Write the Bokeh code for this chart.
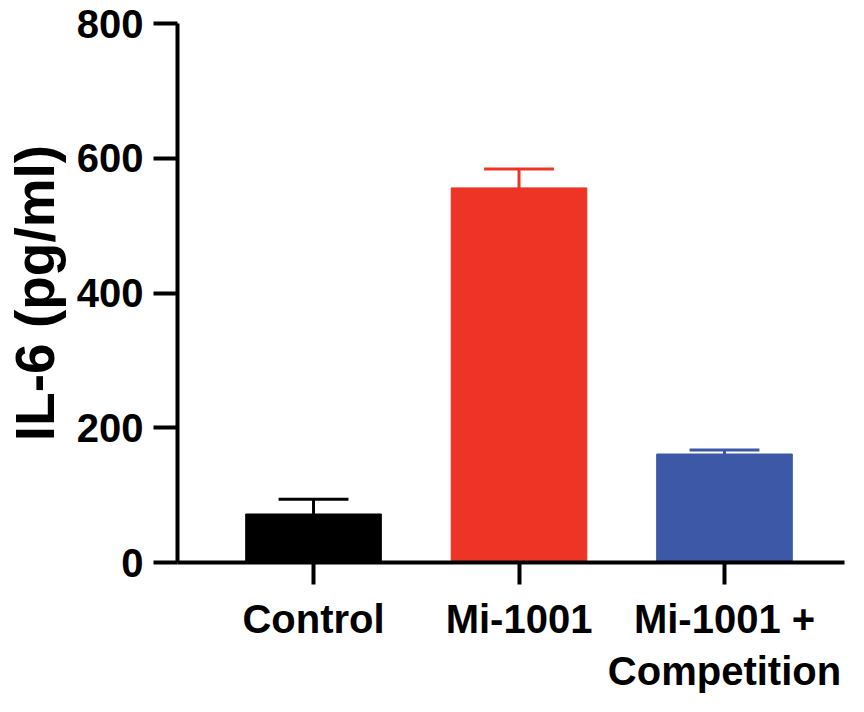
from bokeh.plotting import figure
from bokeh.models import ColumnDataSource, FixedTicker, Range1d
from bokeh.embed import file_html
from bokeh.resources import INLINE

# --- data ---
categories = ["Control", "Mi-1001", "Mi-1001 +\nCompetition"]
means = [72, 556, 161]
errors = [22, 28, 6]
colors = ["#000000", "#EE3424", "#3C58A6"]
y_ticks = [0, 200, 400, 600, 800]

xpos = list(range(1, len(categories) + 1))
bar_w = 0.66
cap_half = 0.17

src = ColumnDataSource(dict(
    x=xpos,
    top=means,
    upper=[m + e for m, e in zip(means, errors)],
    cap_l=[x - cap_half for x in xpos],
    cap_r=[x + cap_half for x in xpos],
    color=colors,
))

p = figure(
    width=848, height=696,
    x_range=Range1d(0.338, 3.584), y_range=Range1d(0, 800),
    output_backend="svg", toolbar_location=None,
    min_border_left=177, min_border_top=23, min_border_right=4, min_border_bottom=121,
)
p.outline_line_color = None
p.xgrid.visible = False
p.ygrid.visible = False
p.background_fill_color = "white"
p.border_fill_color = "white"

# error bars (upper only) drawn beneath bars
p.segment(x0="x", y0="top", x1="x", y1="upper", source=src, line_color="color", line_width=3)
p.segment(x0="cap_l", y0="upper", x1="cap_r", y1="upper", source=src, line_color="color", line_width=3)
p.vbar(x="x", top="top", bottom=0, width=bar_w, source=src, fill_color="color", line_color="color", line_width=1)

font = "Liberation Sans"

# y axis
ya = p.yaxis[0]
ya.ticker = FixedTicker(ticks=y_ticks)
ya.axis_label = "IL-6 (pg/ml)"
ya.axis_label_text_font = font
ya.axis_label_text_font_style = "bold"
ya.axis_label_text_font_size = "55px"
ya.axis_label_text_color = "black"
ya.axis_label_standoff = 8
ya.major_label_text_font = font
ya.major_label_text_font_style = "bold"
ya.major_label_text_font_size = "40px"
ya.major_label_text_color = "black"
ya.major_label_standoff = 10
ya.axis_line_width = 4
ya.axis_line_color = "black"
ya.major_tick_line_width = 4
ya.major_tick_line_color = "black"
ya.major_tick_out = 24
ya.major_tick_in = 0
ya.minor_tick_line_color = None

# x axis
xa = p.xaxis[0]
xa.ticker = FixedTicker(ticks=xpos)
xa.major_label_overrides = {x: c for x, c in zip(xpos, categories)}
xa.major_label_text_font = font
xa.major_label_text_font_style = "bold"
xa.major_label_text_font_size = "40px"
xa.major_label_text_color = "black"
xa.major_label_standoff = 12
xa.axis_line_width = 4
xa.axis_line_color = "black"
xa.major_tick_line_width = 4
xa.major_tick_line_color = "black"
xa.major_tick_out = 22
xa.major_tick_in = 0
xa.minor_tick_line_color = None

open("out.html", "w").write(file_html(p, INLINE))
